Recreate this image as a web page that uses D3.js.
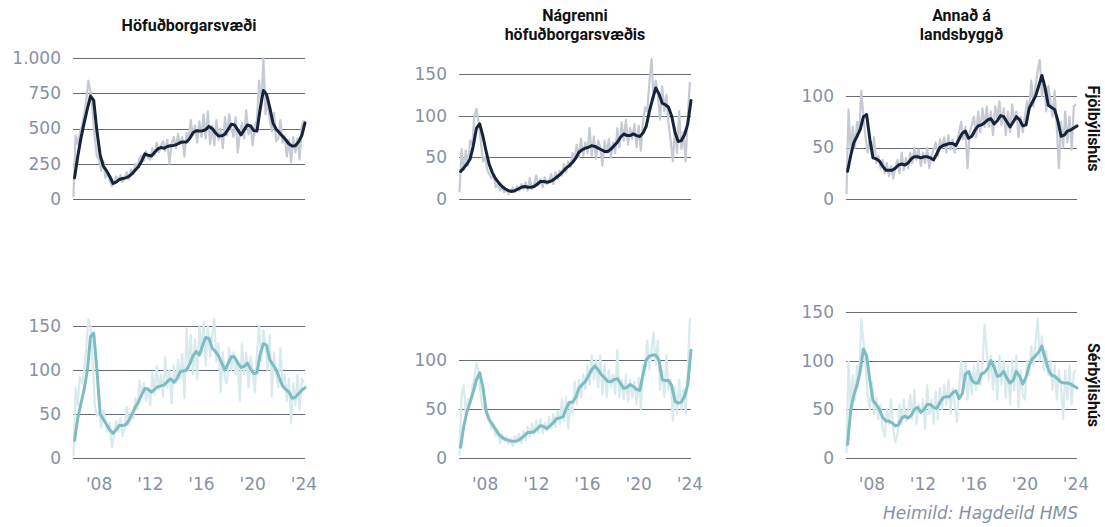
<!DOCTYPE html>
<html>
<head>
<meta charset="utf-8">
<script src="https://cdn.jsdelivr.net/npm/d3@7"></script>
<style>
  body { margin: 0; background: #fff; }
  svg { display: block; }
</style>
</head>
<body>
<svg id="chart" width="1105" height="527"></svg>
<script>
// Region titles (columns) and dwelling types (rows)
const regionTitles = [["Höfuðborgarsvæði"], ["Nágrenni", "höfuðborgarsvæðis"], ["Annað á", "landsbyggð"]];
const dwellingTypes = ["Fjölbýlishús", "Sérbýlishús"];
const sourceNote = "Heimild: Hagdeild HMS";

const xTickYears = [2008, 2012, 2016, 2020, 2024];
const xTickLabels = ["'08", "'12", "'16", "'20", "'24"];

// y ticks and upper bound of each panel (row by row)
const yTicks = [
  [0, 250, 500, 750, 1000], [0, 50, 100, 150], [0, 50, 100],
  [0, 50, 100, 150], [0, 50, 100], [0, 50, 100, 150]
];
const yMax = [1000, 169, 137, 166, 149, 150];

// Every second month from Jan 2006 (raw counts)
const rawCapitalFlats = [
  15, 450, 390, 470, 520, 600,
  700, 840, 760, 620, 430, 300,
  280, 200, 270, 150, 180, 130,
  90, 110, 160, 130, 170, 120,
  150, 190, 140, 210, 180, 250,
  230, 290, 310, 270, 340, 290,
  280, 360, 310, 400, 330, 380,
  410, 340, 420, 250, 390, 440,
  360, 460, 390, 440, 300, 470,
  420, 560, 450, 520, 400, 550,
  440, 600, 430, 620, 390, 520,
  380, 560, 420, 500, 360, 580,
  450, 600, 500, 440, 580, 330,
  470, 540, 430, 630, 460, 520,
  380, 520, 560, 840, 640, 1000,
  600, 700, 560, 480, 610, 410,
  430, 560, 400, 450, 300, 420,
  260, 440, 330, 430, 280, 520,
  560
];
const rawNearbyFlats = [
  8, 60, 35, 58, 40, 70,
  65, 100, 108, 92, 70, 45,
  50, 35, 30, 25, 28, 14,
  18, 10, 15, 8, 12, 6,
  10, 14, 8, 15, 10, 18,
  12, 20, 10, 25, 12, 18,
  28, 16, 24, 14, 26, 18,
  22, 30, 18, 32, 24, 34,
  28, 42, 32, 45, 38, 55,
  48, 65, 50, 72, 52, 68,
  55, 85, 52, 75, 48, 70,
  62, 40, 70, 55, 72, 50,
  68, 55, 85, 62, 92, 70,
  95, 65, 85, 72, 90, 62,
  88, 58, 92, 110, 105, 140,
  168, 120, 142, 125, 95, 135,
  105, 125, 90, 70, 45, 85,
  55, 105, 60, 80, 45, 100,
  140
];
const rawRuralFlats = [
  5, 87, 45, 70, 50, 75,
  65, 105, 80, 60, 45, 58,
  40, 60, 35, 42, 30, 38,
  25, 35, 22, 32, 20, 30,
  38, 25, 45, 28, 40, 30,
  45, 35, 50, 38, 48, 32,
  45, 35, 50, 30, 42, 48,
  55, 42, 58, 50, 60, 45,
  62, 48, 58, 45, 55, 65,
  75, 58, 70, 30, 65, 72,
  80, 60, 85, 65, 88, 70,
  90, 70, 85, 62, 90, 78,
  95, 72, 88, 62, 85, 65,
  92, 75, 85, 60, 80, 65,
  80, 95, 85, 115, 90, 110,
  125, 135, 100, 115, 85, 110,
  95, 80, 105, 70, 30, 75,
  50, 85, 55, 80, 48, 90,
  92
];
const rawCapitalHouses = [
  2, 80, 60, 92, 85, 100,
  125, 158, 150, 110, 60, 48,
  52, 35, 54, 40, 30, 40,
  12, 25, 42, 30, 45, 25,
  35, 58, 38, 52, 45, 68,
  55, 88, 70, 85, 65, 80,
  60, 98, 72, 105, 78, 95,
  70, 115, 80, 100, 62, 105,
  85, 112, 90, 118, 68, 148,
  100, 140, 95, 135, 90, 150,
  120, 155, 105, 150, 115, 140,
  158, 110, 130, 75, 120, 90,
  85, 125, 100, 120, 95, 110,
  65, 130, 95, 120, 80, 115,
  100, 75, 120, 150, 110, 145,
  130, 100, 140, 70, 120, 95,
  80, 125, 85, 95, 65, 90,
  40, 85, 60, 95, 55, 90,
  85
];
const rawNearbyHouses = [
  2, 64, 74, 45, 60, 58,
  72, 82, 97, 88, 62, 50,
  55, 42, 38, 30, 35, 22,
  28, 15, 24, 18, 22, 14,
  20, 12, 22, 16, 25, 15,
  28, 18, 32, 22, 35, 24,
  38, 26, 40, 25, 36, 28,
  42, 30, 45, 32, 48, 35,
  60, 38, 62, 30, 55, 45,
  78, 55, 80, 62, 85, 70,
  95, 75, 105, 80, 100, 72,
  105, 65, 95, 62, 90, 72,
  85, 65, 110, 62, 80, 60,
  85, 58, 80, 62, 78, 55,
  82, 50, 95, 85, 120, 90,
  110, 128, 95, 120, 70, 90,
  62, 105, 70, 80, 38, 72,
  45, 80, 50, 70, 45, 90,
  143
];
const rawRuralHouses = [
  5, 99, 50, 85, 60, 95,
  80, 143, 120, 95, 65, 50,
  78, 45, 62, 40, 55, 30,
  22, 50, 35, 60, 30, 16,
  25, 55, 35, 60, 38, 48,
  65, 40, 70, 35, 55, 45,
  60, 30, 75, 45, 60, 35,
  68, 40, 72, 50, 75, 55,
  80, 45, 72, 55, 37, 70,
  100, 70, 98, 60, 88, 65,
  95, 70, 100, 75, 95, 137,
  110, 80, 105, 70, 100, 60,
  105, 75, 100, 62, 95, 55,
  100, 70, 105, 52, 90, 65,
  60, 100, 85, 115, 95, 120,
  143, 100, 125, 90, 110, 85,
  100, 70, 95, 60, 90, 75,
  40, 90, 60, 95, 55, 88,
  90
];

// Quarterly trend, one value per quarter from 2006 Q1
const trendCapitalFlats = [
  150, 300, 430, 540, 640, 730, 700, 480, 310, 234, 200, 160,
  110, 120, 138, 145, 150, 160, 180, 205, 230, 270, 320, 310,
  305, 330, 355, 365, 360, 372, 378, 380, 388, 400, 404, 404,
  430, 470, 484, 482, 484, 492, 515, 500, 470, 447, 448, 460,
  495, 530, 525, 490, 455, 490, 525, 518, 485, 482, 640, 770,
  740, 650, 540, 495, 470, 445, 420, 390, 376, 378, 405, 450,
  540
];
const trendNearbyFlats = [
  33, 37, 42, 48, 64, 85, 90, 75, 57, 41, 31, 24,
  19, 15, 12, 10, 9, 10, 12, 14, 15, 14, 14, 15,
  18, 21, 21, 20, 21, 23, 26, 29, 33, 37, 40, 44,
  49, 56, 59, 61, 62, 64, 63, 61, 59, 57, 57, 60,
  64, 68, 74, 78, 76, 76, 78, 76, 75, 79, 87, 105,
  120, 133, 126, 115, 113, 110, 99, 80, 69, 70, 77, 90,
  118
];
const trendRuralFlats = [
  27, 42, 55, 61, 68, 80, 82, 58, 40, 39, 37, 32,
  28, 28, 28, 30, 33, 34, 33, 35, 39, 41, 41, 40,
  41, 41, 40, 38, 44, 50, 52, 53, 54, 54, 52, 58,
  64, 66, 59, 61, 67, 71, 72, 74, 77, 78, 73, 76,
  81, 80, 75, 70, 75, 80, 77, 71, 72, 88, 94, 100,
  110, 120, 108, 91, 89, 87, 76, 61, 62, 66, 67, 69,
  71
];
const trendCapitalHouses = [
  20, 45, 62, 78, 100, 138, 142, 100, 50, 44, 38, 32,
  28, 32, 37, 37, 38, 43, 50, 58, 64, 72, 79, 78,
  75, 78, 81, 82, 83, 87, 90, 86, 90, 98, 99, 100,
  107, 116, 121, 117, 128, 137, 136, 125, 121, 116, 108, 100,
  108, 115, 115, 108, 103, 104, 108, 101, 96, 97, 118, 130,
  128, 112, 106, 100, 91, 82, 78, 75, 68, 69, 73, 77,
  80
];
const trendNearbyHouses = [
  11, 32, 47, 57, 68, 80, 87, 72, 48, 39, 34, 29,
  24, 21, 19, 18, 17, 17, 18, 20, 23, 26, 26, 27,
  30, 33, 32, 30, 33, 36, 40, 41, 42, 50, 57, 57,
  62, 71, 75, 78, 84, 90, 94, 90, 85, 82, 78, 78,
  80, 81, 76, 71, 72, 75, 73, 70, 69, 85, 100, 104,
  105, 105, 100, 80, 79, 79, 74, 58, 56, 57, 63, 75,
  110
];
const trendRuralHouses = [
  14, 49, 65, 75, 90, 112, 105, 80, 59, 55, 50, 42,
  38, 38, 36, 33, 34, 41, 43, 41, 44, 50, 52, 47,
  50, 55, 55, 52, 51, 57, 62, 63, 63, 67, 69, 61,
  66, 86, 89, 80, 77, 77, 86, 88, 92, 100, 93, 84,
  85, 89, 82, 77, 80, 89, 84, 76, 83, 95, 102, 105,
  109, 115, 103, 91, 85, 84, 81, 78, 77, 77, 76, 74,
  72
];

const rawSeries = [rawCapitalFlats, rawNearbyFlats, rawRuralFlats,
                   rawCapitalHouses, rawNearbyHouses, rawRuralHouses];
const trendSeries = [trendCapitalFlats, trendNearbyFlats, trendRuralFlats,
                     trendCapitalHouses, trendNearbyHouses, trendRuralHouses];

// ---- drawing ----
const svg = d3.select("#chart");
const isLocale = d3.formatLocale({ decimal: ",", thousands: ".", grouping: [3], currency: ["", " kr."] });
const fmt = isLocale.format(",");

const colX = [[73, 305], [459, 691], [846, 1077]];
const rowY = [[58, 199], [312, 458]];
const styles = [
  { raw: "#c6cad3", trend: "#16233b" },
  { raw: "#d9eaec", trend: "#7dbdc1" }
];
const tickFont = "'DejaVu Sans', sans-serif";
const titleFont = "Roboto, 'Noto Sans', sans-serif";

const rawDate = i => new Date(2006, 2 * i, 15);
const trendDate = i => new Date(2006, 1 + 3 * i, 15);

for (let r = 0; r < 2; r++) {
  for (let c = 0; c < 3; c++) {
    const k = r * 3 + c;
    const x = d3.scaleTime()
      .domain([new Date(2006, 0, 1), new Date(2024, 1, 15)])
      .range(colX[c]);
    const y = d3.scaleLinear().domain([0, yMax[k]]).range([rowY[r][1], rowY[r][0]]);
    const g = svg.append("g");

    // horizontal grid with labels on the left
    const yAxis = d3.axisLeft(y).tickValues(yTicks[k]).tickFormat(fmt)
      .tickSize(-(colX[c][1] - colX[c][0])).tickPadding(12);
    const ga = g.append("g").attr("transform", `translate(${colX[c][0]},0)`).call(yAxis);
    ga.select(".domain").remove();
    ga.selectAll(".tick line").attr("stroke", "#646c7e").attr("stroke-width", 1)
      .attr("shape-rendering", "crispEdges");
    ga.selectAll(".tick text").attr("fill", "#8790a4")
      .style("font-family", tickFont).style("font-size", "17px");

    const line = d3.line().x(d => x(d[0])).y(d => y(d[1]));

    g.append("path")
      .datum(rawSeries[k].map((v, i) => [rawDate(i), v]))
      .attr("d", line).attr("fill", "none")
      .attr("stroke", styles[r].raw).attr("stroke-width", 2.2).attr("stroke-linejoin", "round");

    g.append("path")
      .datum(trendSeries[k].map((v, i) => [trendDate(i), v]))
      .attr("d", line).attr("fill", "none")
      .attr("stroke", styles[r].trend).attr("stroke-width", 3)
      .attr("stroke-linejoin", "round").attr("stroke-linecap", "round");

    // year labels under the bottom row
    if (r === 1) {
      const xa = d3.axisBottom(x)
        .tickValues(xTickYears.map(yr => new Date(yr, 0, 1)))
        .tickFormat((d, i) => xTickLabels[i]).tickSize(0).tickPadding(0);
      const gx = g.append("g").attr("transform", `translate(0,${rowY[r][1] + 20})`).call(xa);
      gx.select(".domain").remove();
      gx.selectAll(".tick text").attr("fill", "#8790a4").attr("dy", "0.71em")
        .style("font-family", tickFont).style("font-size", "17px");
    }
  }
}

// column titles
const titleBaselines = [[31], [20.5, 39.5], [20.5, 39.5]];
regionTitles.forEach((lines, c) => {
  const cx = (colX[c][0] + colX[c][1]) / 2;
  lines.forEach((t, j) => {
    svg.append("text").attr("x", cx).attr("y", titleBaselines[c][j])
      .attr("text-anchor", "middle").attr("fill", "#111")
      .style("font-family", titleFont).style("font-weight", 700).style("font-size", "16px")
      .text(t);
  });
});

// row labels on the right, rotated
dwellingTypes.forEach((t, r) => {
  const cy = (rowY[r][0] + rowY[r][1]) / 2;
  svg.append("text")
    .attr("transform", `translate(1088,${cy}) rotate(90)`)
    .attr("text-anchor", "middle").attr("fill", "#111")
    .style("font-family", titleFont).style("font-weight", 700).style("font-size", "16px")
    .text(t);
});

// source
svg.append("text").attr("x", 1078).attr("y", 519).attr("text-anchor", "end")
  .attr("fill", "#8790a4").style("font-family", tickFont).style("font-style", "italic")
  .style("font-size", "17px").text(sourceNote);
</script>
</body>
</html>
